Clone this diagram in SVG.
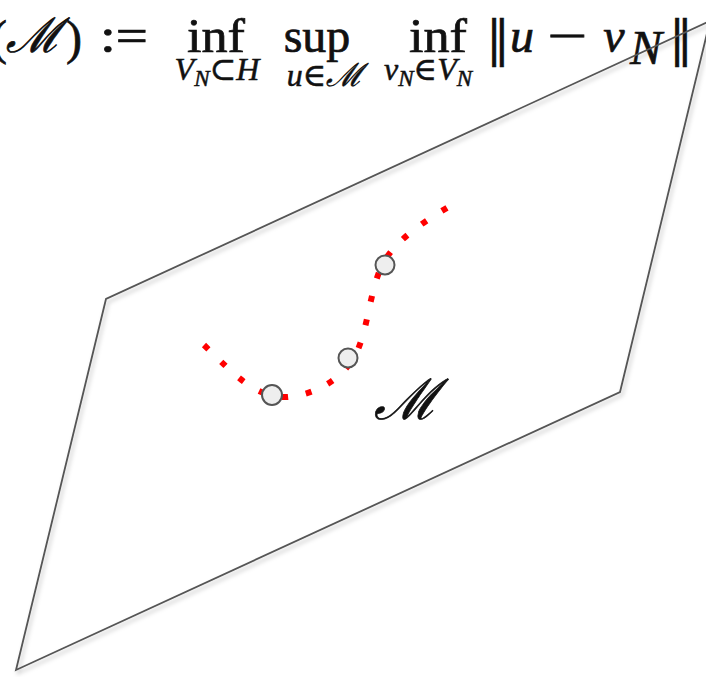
<svg xmlns="http://www.w3.org/2000/svg" width="706" height="677" viewBox="0 0 706 677">
<style>
.m{font-family:"Liberation Serif","DejaVu Serif",serif;fill:#111;stroke:#111;stroke-width:0.7;}
.big{font-size:48px;}
.sub{font-size:32px;stroke-width:0.5;}
.it{font-style:italic;}
.nm{font-family:"DejaVu Serif","Liberation Serif",serif;stroke-width:0.3;}
.edge{fill:none;stroke:#555;stroke-width:1.8;stroke-linejoin:miter;}
.pt{fill:#eeeeee;stroke:#555;stroke-width:2;}
.curve{fill:none;stroke:#ff0000;stroke-width:6;stroke-dasharray:6 18;}
</style>
<defs>
<filter id="sh" x="-10%" y="-10%" width="120%" height="120%">
<feDropShadow dx="2" dy="3" stdDeviation="2" flood-color="#000" flood-opacity="0.25"/>
</filter>
</defs>
<rect width="706" height="677" fill="#fff"/>
<g id="formula" class="m">
<text class="big" x="-9" y="54">(</text>
<text class="big it" x="6" y="52" font-size="60">ℳ</text>
<text class="big" x="66" y="54">)</text>
<text class="big" x="100" y="52" textLength="48" lengthAdjust="spacingAndGlyphs">:=</text>
<text class="big" x="216" y="52" text-anchor="middle" textLength="58" lengthAdjust="spacingAndGlyphs">inf</text>
<text class="sub" x="217" y="80" text-anchor="middle"><tspan class="it">V</tspan><tspan class="it" font-size="23" dy="6">N</tspan><tspan dy="-6">⊂</tspan><tspan class="it">H</tspan></text>
<text class="big" x="317" y="52" text-anchor="middle">sup</text>
<text class="sub" x="325" y="86" text-anchor="middle"><tspan class="it">u</tspan>∈<tspan class="it">ℳ</tspan></text>
<text class="big" x="438" y="52" text-anchor="middle" textLength="58" lengthAdjust="spacingAndGlyphs">inf</text>
<text class="sub" x="428" y="80" text-anchor="middle"><tspan class="it">v</tspan><tspan class="it" font-size="23" dy="6">N</tspan><tspan dy="-6">∈</tspan><tspan class="it">V</tspan><tspan class="it" font-size="23" dy="6">N</tspan></text>
<text class="big nm" x="498" y="56" text-anchor="middle" font-size="50">‖</text>
<text class="big it" x="522" y="52" text-anchor="middle" font-size="52">u</text>
<text class="big" x="567" y="52" text-anchor="middle" textLength="40" lengthAdjust="spacingAndGlyphs">−</text>
<text class="big it" x="614" y="52" text-anchor="middle" font-size="54">v</text>
<text class="big it" x="646" y="64" text-anchor="middle" font-size="32">N</text>
<text class="big nm" x="681" y="56" text-anchor="middle" font-size="50">‖</text>
</g>
<g id="plane" filter="url(#sh)">
<polygon class="edge" points="16,670 106,299 710,21 620,392"/>
</g>
<g id="connectors">
<path class="curve" d="M204,345 C232,372 255,399 288,397 C318,394 343,378 356,354 C369,326 369,292 383,263 C398,238 425,221 450,206"/>
</g>
<g id="p1"><circle class="pt" cx="272" cy="395" r="10"/></g>
<g id="p2"><circle class="pt" cx="348" cy="358" r="9.5"/></g>
<g id="p3"><circle class="pt" cx="385" cy="265" r="9.5"/></g>
<g id="label"><text class="m it" x="406" y="419" font-size="56" text-anchor="middle" stroke-width="0.8">ℳ</text></g>
</svg>
